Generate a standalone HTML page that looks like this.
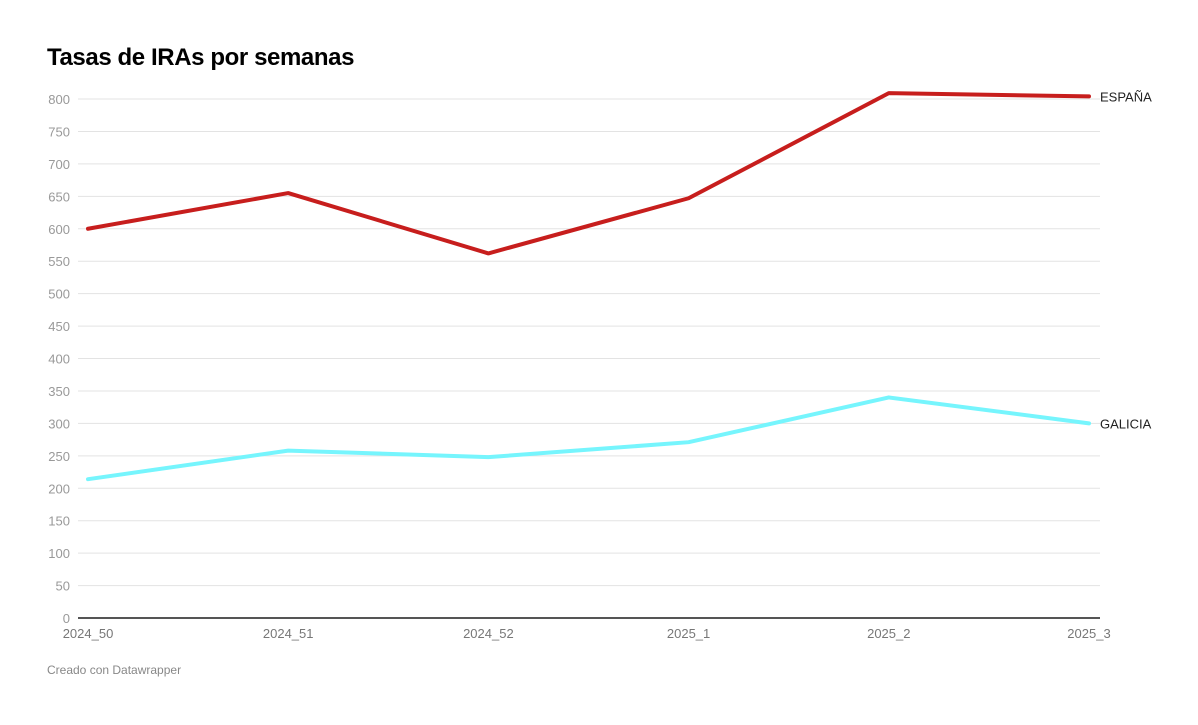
<!DOCTYPE html>
<html><head><meta charset="utf-8"><style>
body{margin:0;background:#fff;font-family:"Liberation Sans",sans-serif;}
#wrap{position:relative;width:1198px;height:725px;}
h1{position:absolute;left:47px;top:44px;margin:0;font-size:24px;font-weight:bold;color:#000;letter-spacing:-0.4px}
#foot{position:absolute;left:47px;top:663px;font-size:12px;color:#888}
</style></head><body>
<div id="wrap">
<h1>Tasas de IRAs por semanas</h1>
<svg id="chart" width="1198" height="725" style="position:absolute;left:0;top:0"></svg>
<div id="foot">Creado con Datawrapper</div>
</div>
<script>
const categories=["2024_50","2024_51","2024_52","2025_1","2025_2","2025_3"];
const espana=[600,655,562,647,809,804];
const galicia=[214,258,248,271,340,300];
const yTicks=[0,50,100,150,200,250,300,350,400,450,500,550,600,650,700,750,800];
const seriesNames=["ESPAÑA","GALICIA"];
const NS="http://www.w3.org/2000/svg";
const svg=document.getElementById('chart');
const x=i=>88+i*(1089-88)/(categories.length-1);
const y=v=>618-v*(618-99)/800;
function mk(t,a){const e=document.createElementNS(NS,t);for(const k in a)e.setAttribute(k,a[k]);svg.appendChild(e);return e;}
yTicks.forEach(v=>{
 const l=mk('line',{x1:78,x2:1100,y1:y(v),y2:y(v),stroke:v===0?'#555':'#e3e3e3','stroke-width':v===0?2:1});
 
 
 const t=mk('text',{x:70,y:y(v)+5,'text-anchor':'end','font-size':13,fill:'#999','font-family':'Liberation Sans'});
 t.textContent=v;
 
 
});
categories.forEach((c,i)=>{
 const t=mk('text',{x:x(i),y:638,'text-anchor':'middle','font-size':13,fill:'#777','font-family':'Liberation Sans'});
 t.textContent=c;
 
 
});
[[espana,'#c71e1d',seriesNames[0],'line-espana'],[galicia,'#76f5fd',seriesNames[1],'line-galicia']].forEach(([d,col,name,dn])=>{
 const p=mk('polyline',{points:d.map((v,i)=>x(i)+','+y(v)).join(' '),fill:'none',stroke:col,'stroke-width':4,'stroke-linejoin':'round','stroke-linecap':'round'});
 
 
 const t=mk('text',{x:1100,y:y(d[d.length-1])+5,'font-size':13,fill:'#222','font-family':'Liberation Sans'});
 t.textContent=name;
 
 
});
</script>
</body></html>
